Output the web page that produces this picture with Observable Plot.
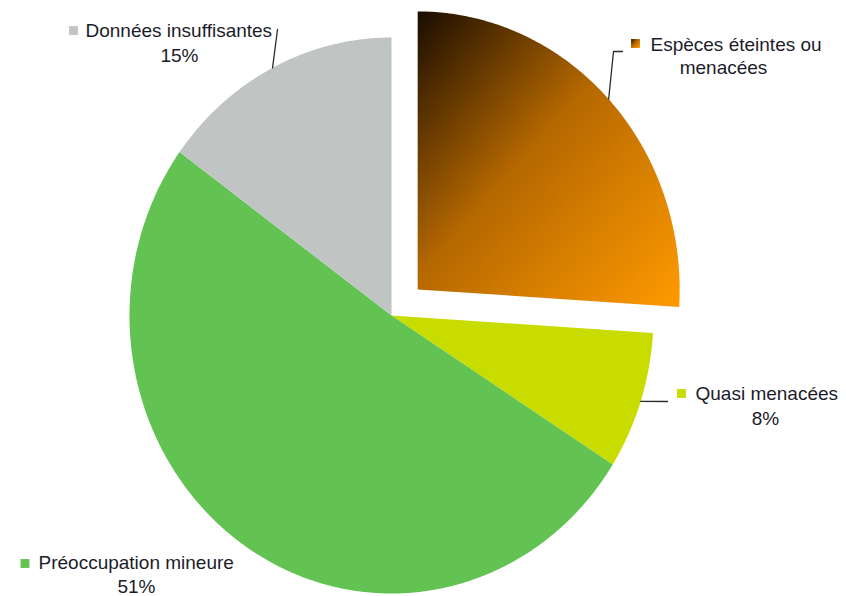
<!DOCTYPE html>
<html>
<head>
<meta charset="utf-8">
<script src="https://cdn.jsdelivr.net/npm/d3@7"></script>
<script src="https://cdn.jsdelivr.net/npm/@observablehq/plot@0.6"></script>
<style>
  html, body { margin: 0; padding: 0; background: #fff; }
  #chart { width: 846px; height: 596px; }
</style>
</head>
<body>
<div id="chart"></div>
<script>
// ---- Data ----
const categories = ["Espèces éteintes ou menacées", "Quasi menacées", "Préoccupation mineure", "Données insuffisantes"];
const values = [26, 8, 51, 15];
const labelLines = [["Espèces éteintes ou", "menacées"], ["Quasi menacées", "8%"], ["Préoccupation mineure", "51%"], ["Données insuffisantes", "15%"]];
const exploded = [true, false, false, false];

// ---- Styles / layout ----
const colors = ["url(#orangeGrad)", "#c8dc00", "#62c353", "#c0c4c2"];
const cx = 391, cy = 315, rx = 262, ry = 278;   // pie centre & radii in pixels
const explodeDist = 0.137;
const font = "Liberation Sans, Arial, sans-serif";
const textColor = "#1c1c2a";
// label placement (pixels): square centre, first-line start, second-line centre, leader elbows
const layout = [
  {sq: [635, 43], l1: [650, 44], l2: [723, 67], leader: [[613, 51], [622, 51]]},
  {sq: [681, 393], l1: [695, 393], l2: [765, 418], leader: [[667, 401]]},
  {sq: [24.5, 563], l1: [38, 562], l2: [136, 586], leader: []},
  {sq: [73, 30], l1: [85, 30], l2: [179, 55], leader: [[277, 29]]}
];
const px = v => (v - cx) / rx;
const py = v => (cy - v) / ry;

// ---- Geometry from data ----
const total = d3.sum(values);
let acc = 0;
const slices = categories.map((c, i) => {
  const a0 = acc / total * 2 * Math.PI;
  acc += values[i];
  const a1 = acc / total * 2 * Math.PI;
  const mid = (a0 + a1) / 2;
  const ox = exploded[i] ? explodeDist * Math.sin(mid) : 0;
  const oy = exploded[i] ? explodeDist * Math.cos(mid) : 0;
  const n = Math.max(8, Math.ceil((a1 - a0) * 90));
  const pts = [{x: ox, y: oy}];
  for (let k = 0; k <= n; k++) {
    const a = a0 + (a1 - a0) * k / n;
    pts.push({x: ox + Math.sin(a), y: oy + Math.cos(a)});
  }
  return {category: c, color: colors[i], pts, rim: {x: ox + Math.sin(mid), y: oy + Math.cos(mid)}};
});

const leaders = slices.map((s, i) => {
  const l = layout[i].leader;
  if (!l.length) return null;
  return [s.rim, ...l.map(p => ({x: px(p[0]), y: py(p[1])}))];
}).filter(Boolean);

const squares = categories.map((c, i) => ({x: px(layout[i].sq[0]), y: py(layout[i].sq[1]), fill: colors[i]}));
const line1 = categories.map((c, i) => ({x: px(layout[i].l1[0]), y: py(layout[i].l1[1]), text: labelLines[i][0]}));
const line2 = categories.map((c, i) => ({x: px(layout[i].l2[0]), y: py(layout[i].l2[1]), text: labelLines[i][1]}));

const marks = [];
slices.forEach(s => {
  marks.push(Plot.line(s.pts, {x: "x", y: "y", curve: "linear-closed", fill: s.color, stroke: "none"}));
});
leaders.forEach(l => {
  marks.push(Plot.line(l, {x: "x", y: "y", stroke: "#2b2b2b", strokeWidth: 1.3}));
});
squares.forEach(s => {
  marks.push(Plot.dot([s], {x: "x", y: "y", symbol: "square", r: 5, fill: s.fill, stroke: "none"}));
});
marks.push(Plot.text(line1, {x: "x", y: "y", text: "text", textAnchor: "start", lineAnchor: "middle", fontSize: 19, fontFamily: font, fill: textColor}));
marks.push(Plot.text(line2, {x: "x", y: "y", text: "text", textAnchor: "middle", lineAnchor: "middle", fontSize: 19, fontFamily: font, fill: textColor}));

const svg = Plot.plot({
  width: 846,
  height: 596,
  margin: 0,
  x: {domain: [-1, 1], range: [cx - rx, cx + rx], axis: null},
  y: {domain: [-1, 1], range: [cy + ry, cy - ry], axis: null},
  style: {background: "#fff", fontFamily: font, overflow: "visible"},
  marks
});
svg.insertAdjacentHTML("afterbegin",
  `<defs><linearGradient id="orangeGrad" x1="0" y1="0" x2="1" y2="1">
     <stop offset="0" stop-color="#190c00"/>
     <stop offset="0.45" stop-color="#b56800"/>
     <stop offset="1" stop-color="#ff9a00"/>
   </linearGradient></defs>`);
document.getElementById("chart").appendChild(svg);
</script>
</body>
</html>
